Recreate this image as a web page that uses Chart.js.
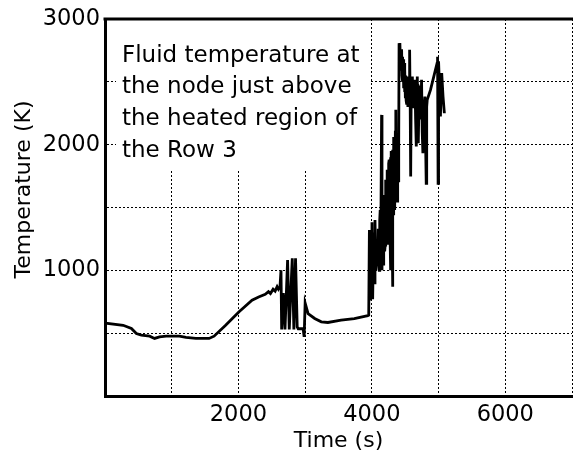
<!DOCTYPE html>
<html>
<head>
<meta charset="utf-8">
<script src="https://cdn.jsdelivr.net/npm/chart.js@4/dist/chart.umd.min.js"></script>
<style>
html,body{margin:0;padding:0;background:#fff;overflow:hidden;width:573px;height:454px;}
canvas{display:block;}
</style>
</head>
<body>
<canvas id="c" width="578" height="454"></canvas>
<script>
// ---- data ----
const timeS = [
  0, 8, 272, 396, 470, 545, 669, 743, 817, 917, 1115, 1214, 1362, 1560, 1635, 1808, 2006, 2204, 2303, 2402,
  2450, 2480, 2520, 2550, 2580, 2600,
  2623, 2638, 2648, 2673, 2698, 2737, 2762, 2787, 2807, 2831, 2856, 2881, 2896, 2970, 2985, 3000,
  3044, 3143, 3242, 3341, 3539, 3737, 3940,
  3953, 3963, 3970, 3978, 3990, 4002, 4012, 4027, 4037, 4047, 4060, 4077, 4090,
  4096, 4103, 4111, 4118, 4125, 4130, 4136, 4146, 4152, 4158, 4161, 4168, 4175, 4180, 4186, 4192, 4200,
  4205, 4210, 4216, 4225, 4230, 4235, 4240, 4245, 4252, 4260, 4266, 4272, 4278, 4285, 4290, 4295, 4302,
  4309, 4316, 4320, 4324, 4330, 4334, 4340, 4344, 4352, 4359, 4366, 4370, 4374, 4380, 4384, 4390, 4394,
  4400, 4405, 4408,
  4420, 4428, 4433, 4440, 4446, 4452, 4458, 4464, 4470, 4477, 4483, 4490, 4495, 4502, 4508, 4514, 4520,
  4526, 4532, 4540, 4548, 4557, 4563, 4569, 4575, 4582,
  4590, 4607, 4618, 4631, 4646, 4656, 4666, 4681, 4696,
  4710, 4721, 4733, 4745, 4755, 4765, 4780, 4795, 4815, 4822, 4830, 4879, 4929, 4978, 4985, 4993, 5000,
  5008, 5028, 5047, 5067, 5087
];
const tempK = [
  660, 580, 563, 537, 497, 484, 476, 458, 471, 476, 476, 466, 458, 458, 476, 563, 669, 762, 788, 809,
  830, 815, 850, 835, 870, 850,
  870, 1000, 530, 820, 530, 1082, 530, 850, 1095, 530, 1095, 550, 535, 535, 470, 740,
  656, 617, 590, 585, 603, 616, 640,
  643, 1321, 760, 1200, 1100, 1382, 770, 1300, 900, 1400, 1000, 1214, 1050,
  1330, 1050, 1000, 1400, 1480, 1100, 1150, 2237, 1000, 1350, 1300, 1050, 1100, 1550, 1600, 1150, 1200,
  1650, 1720, 1250, 1346, 1800, 1750, 1250, 1214, 1850, 1880, 1350, 1300, 1900, 1000, 1950, 1900, 1400,
  869, 1960, 1450, 1500, 2050, 2050, 1500, 1480, 2100, 2277, 1600, 2050, 2000, 1550, 1550, 2050, 2012,
  1700, 2000, 2795,
  2809, 2650, 2750, 2600, 2760, 2550, 2700, 2500, 2680, 2450, 2650, 2420, 2600, 2380, 2550, 2350, 2520,
  2320, 2543, 2300, 2480, 2450, 2650, 2756, 2300, 1746,
  2450, 2543, 2300, 2410, 2516, 2200, 1986, 2543, 2012,
  2450, 2436, 2200, 2516, 2100, 1932, 2277, 2383, 1693, 2300, 2357, 2436, 2543, 2649, 2700, 1693, 2663,
  2543, 2224, 2569, 2383, 2250
];
const xTickLabels = [2000, 4000, 6000];
const yTickLabels = [1000, 2000, 3000];
const xTitle = 'Time (s)';
const yTitle = 'Temperature (K)';
const noteLines = ['Fluid temperature at', 'the node just above', 'the heated region of', 'the Row 3'];

const FONT = 'DejaVu Sans';
const points = timeS.map((t, i) => ({x: t, y: tempK[i]}));

const framePlugin = {
  id: 'frame',
  beforeDatasetsDraw(chart) {
    const {ctx, chartArea: a} = chart;
    ctx.save();
    ctx.fillStyle = '#fff';
    ctx.fillRect(a.left + 11, a.top, 255, 150);
    ctx.fillStyle = '#000';
    ctx.font = '23px "' + FONT + '"';
    ctx.textAlign = 'left';
    ctx.textBaseline = 'alphabetic';
    noteLines.forEach((s, i) => ctx.fillText(s, a.left + 17, a.top + 42.5 + i * 31.7));
    ctx.restore();
  },
  afterDraw(chart) {
    const {ctx, chartArea: a} = chart;
    ctx.save();
    ctx.fillStyle = '#000';
    ctx.fillRect(a.left - 1.5, a.top - 1.5, a.right - a.left + 3, 3);
    ctx.translate(24, (a.top + a.bottom) / 2 - 18);
    ctx.rotate(-Math.PI / 2);
    ctx.font = '22px "' + FONT + '"';
    ctx.textAlign = 'center';
    ctx.textBaseline = 'middle';
    ctx.fillText(yTitle, 0, 0);
    ctx.restore();
  }
};

new Chart(document.getElementById('c'), {
  type: 'scatter',
  data: {
    datasets: [{
      data: points,
      showLine: true,
      borderColor: '#000',
      backgroundColor: '#000',
      borderWidth: 2.8,
      pointRadius: 0,
      tension: 0,
      borderJoinStyle: 'miter'
    }]
  },
  options: {
    responsive: false,
    animation: false,
    devicePixelRatio: 1,
    layout: {padding: {left: 0, right: 2, top: 19, bottom: 0}},
    plugins: {legend: {display: false}, tooltip: {enabled: false}},
    scales: {
      x: {
        type: 'linear', min: 0, max: 7000,
        ticks: {
          stepSize: 1000, autoSkip: false, maxRotation: 0, padding: 6,
          color: '#000', font: {family: FONT, size: 22.5},
          callback: v => xTickLabels.includes(v) ? String(v) : ''
        },
        grid: {color: '#000', lineWidth: 1, drawTicks: false},
        border: {display: true, color: '#000', width: 3, dash: [2, 2]},
        title: {display: true, text: xTitle, color: '#000', font: {family: FONT, size: 22}, padding: {top: 0, bottom: 0}},
        afterFit: s => { s.height = 58; }
      },
      y: {
        type: 'linear', min: 0, max: 3000,
        ticks: {
          stepSize: 500, autoSkip: false, padding: 5,
          color: '#000', font: {family: FONT, size: 22.5},
          callback: v => yTickLabels.includes(v) ? String(v) : ''
        },
        grid: {color: '#000', lineWidth: 1, drawTicks: false},
        border: {display: true, color: '#000', width: 3, dash: [2, 2]},
        afterFit: s => { s.width = 105; }
      }
    }
  },
  plugins: [framePlugin]
});
</script>
</body>
</html>
